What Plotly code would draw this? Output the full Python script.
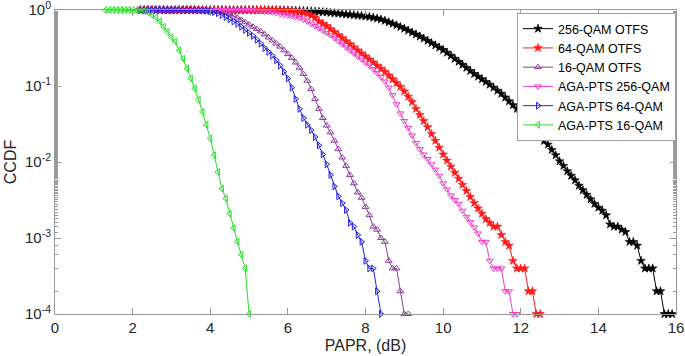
import plotly.graph_objects as go

# PAPR grid starts (dB) and step of the simulation grid (0.1 dB)
green_start = 1.3
other_start = 2.2
step = 0.1

# CCDF values, stored as log10(CCDF)
black_log = [0]*34 + [
    -0.001, -0.0015, -0.002, -0.003, -0.004, -0.005, -0.007, -0.009, -0.011, -0.013,
    -0.016, -0.019, -0.022, -0.026, -0.030, -0.035, -0.040, -0.045, -0.050, -0.055,
    -0.060, -0.065, -0.070, -0.076, -0.082, -0.090, -0.10, -0.11, -0.123, -0.14,
    -0.16, -0.18, -0.20, -0.222, -0.245, -0.27, -0.295, -0.32, -0.347, -0.375,
    -0.404, -0.434, -0.464, -0.494, -0.525, -0.56, -0.60, -0.64, -0.68, -0.72,
    -0.76, -0.80, -0.84, -0.875, -0.91, -0.945, -0.98, -1.02, -1.06, -1.10,
    -1.15, -1.20, -1.25, -1.30, -1.36, -1.42, -1.49, -1.55, -1.61, -1.66,
    -1.72, -1.77, -1.84, -1.91, -1.99, -2.05, -2.12, -2.18, -2.24, -2.31,
    -2.37, -2.43, -2.49, -2.55, -2.60, -2.64, -2.70, -2.82, -2.85, -2.85,
    -2.89, -2.92, -3.05, -3.05, -3.10, -3.30, -3.40, -3.40, -3.40, -3.70,
    -3.70, -4.0, -4.0, -4.0]

red_log = [0]*34 + [
    -0.001, -0.002, -0.003, -0.005, -0.008, -0.012, -0.017, -0.025, -0.035, -0.05,
    -0.07, -0.10, -0.15, -0.18, -0.21, -0.25, -0.29, -0.33, -0.37, -0.41,
    -0.45, -0.49, -0.53, -0.57, -0.61, -0.65, -0.69, -0.73, -0.77, -0.81,
    -0.86, -0.91, -0.96, -1.01, -1.07, -1.14, -1.21, -1.30, -1.38, -1.46,
    -1.54, -1.63, -1.72, -1.81, -1.90, -1.98, -2.06, -2.14, -2.22, -2.30,
    -2.38, -2.46, -2.54, -2.61, -2.68, -2.75, -2.80, -2.85, -2.85, -2.96,
    -3.05, -3.10, -3.30, -3.40, -3.40, -3.40, -3.70, -3.70, -4.0, -4.0]

purple_log = [0]*16 + [
    -0.003, -0.005, -0.008, -0.012, -0.018, -0.026, -0.036, -0.05, -0.07, -0.10,
    -0.13, -0.16, -0.19, -0.22, -0.25, -0.28, -0.32, -0.36, -0.40, -0.44,
    -0.48, -0.53, -0.58, -0.63, -0.69, -0.76, -0.84, -0.93, -1.04, -1.17,
    -1.30, -1.42, -1.52, -1.61, -1.72, -1.83, -1.94, -2.05, -2.17, -2.28,
    -2.40, -2.47, -2.59, -2.70, -2.85, -2.89, -3.0, -3.05, -3.30, -3.40,
    -3.40, -3.70, -4.0, -4.0]

pink_log = [0]*28 + [
    -0.002, -0.004, -0.007, -0.011, -0.016, -0.022, -0.03, -0.04, -0.05, -0.06,
    -0.07, -0.08, -0.09, -0.105, -0.125, -0.15, -0.18, -0.21, -0.24, -0.27,
    -0.30, -0.33, -0.37, -0.41, -0.45, -0.49, -0.53, -0.57, -0.61, -0.65,
    -0.69, -0.73, -0.78, -0.83, -0.88, -0.94, -1.02, -1.12, -1.24, -1.36,
    -1.46, -1.55, -1.65, -1.75, -1.83, -1.90, -1.96, -2.03, -2.10, -2.18,
    -2.28, -2.36, -2.44, -2.50, -2.55, -2.64, -2.72, -2.79, -2.86, -2.94,
    -3.05, -3.05, -3.30, -3.40, -3.40, -3.40, -3.70, -3.70, -4.0, -4.0]

blue_log = [0]*15 + [
    -0.002, -0.004, -0.007, -0.015, -0.025, -0.04, -0.065, -0.09, -0.12, -0.15,
    -0.18, -0.22, -0.26, -0.30, -0.34, -0.39, -0.44, -0.50, -0.55, -0.60,
    -0.66, -0.73, -0.81, -0.90, -1.02, -1.17, -1.30, -1.42, -1.51, -1.58,
    -1.67, -1.78, -1.90, -2.03, -2.17, -2.32, -2.45, -2.54, -2.63, -2.80,
    -2.85, -2.96, -3.05, -3.30, -3.40, -3.40, -3.70, -4.0]

green_log = [0]*8 + [
    -0.001, -0.004, -0.01, -0.03, -0.06, -0.10, -0.15, -0.22, -0.29, -0.36,
    -0.42, -0.53, -0.64, -0.77, -0.90, -1.03, -1.18, -1.34, -1.51, -1.69,
    -1.91, -2.13, -2.35, -2.48, -2.68, -2.87, -3.05, -3.22, -3.40, -4.0]

names = ["256-QAM OTFS", "64-QAM OTFS", "16-QAM OTFS",
         "AGA-PTS 256-QAM", "AGA-PTS 64-QAM", "AGA-PTS 16-QAM"]

x_ticks = [0, 2, 4, 6, 8, 10, 12, 14, 16]
y_tickvals = [1e-4, 1e-3, 1e-2, 1e-1, 1]
y_ticktext = ["10<sup>-4</sup>", "10<sup>-3</sup>", "10<sup>-2</sup>",
              "10<sup>-1</sup>", "10<sup>0</sup>"]

series = [
    (black_log, other_start, "#000000", "star", 6.5, 0.6),
    (red_log, other_start, "#FF1A1A", "star", 6.5, 0.6),
    (purple_log, other_start, "#8B3A9B", "triangle-up-open", 6, 1),
    (pink_log, other_start, "#F23CC6", "triangle-down-open", 6, 1),
    (blue_log, other_start, "#1F1FE6", "triangle-right-open", 6, 1),
    (green_log, green_start, "#22E022", "triangle-left-open", 6, 1),
]

fig = go.Figure()
for (vals, start, color, sym, size, lw), name in zip(series, names):
    xs = [round(start + step * i, 1) for i in range(len(vals))]
    ys = [10 ** v for v in vals]
    fig.add_trace(go.Scatter(
        x=xs, y=ys, name=name, mode="lines+markers",
        line=dict(color=color, width=1),
        marker=dict(symbol=sym, size=size, color=color,
                    line=dict(color=color, width=lw)),
        cliponaxis=False,
    ))

axis_common = dict(
    showline=True, linecolor="#9a9a9a", linewidth=1, mirror="ticks",
    ticks="inside", tickcolor="#9a9a9a", showgrid=False, zeroline=False,
    ticklabeloverflow="allow", automargin=False,
    tickfont=dict(family="Liberation Sans, Arial", size=15, color="#262626"),
)

fig.update_layout(
    width=685, height=356,
    margin=dict(l=55, r=9, t=10, b=42),
    paper_bgcolor="white", plot_bgcolor="white",
    font=dict(family="Liberation Sans, Arial", color="#262626"),
    xaxis=dict(range=[0, 16], tickvals=x_ticks, ticklen=6,
               title=dict(text="PAPR, (dB)", font=dict(size=16), standoff=4),
               **axis_common),
    yaxis=dict(type="log", range=[-4, 0.001], tickvals=y_tickvals, ticktext=y_ticktext,
               ticklen=6,
               minor=dict(ticks="inside", ticklen=3, tickcolor="#9a9a9a", showgrid=False),
               title=dict(text="CCDF", font=dict(size=16), standoff=4),
               **axis_common),
    legend=dict(x=1.0, xanchor="right", y=0.99, yanchor="top",
                bgcolor="white", bordercolor="#a0a0a0", borderwidth=1,
                font=dict(family="Liberation Sans, Arial", size=12.5, color="#000000"),
                tracegroupgap=0, itemwidth=30),
    showlegend=True,
)

fig.write_html("out.html", config={"displayModeBar": False},
               post_script="document.body.style.margin='0';document.body.style.overflow='hidden';")
